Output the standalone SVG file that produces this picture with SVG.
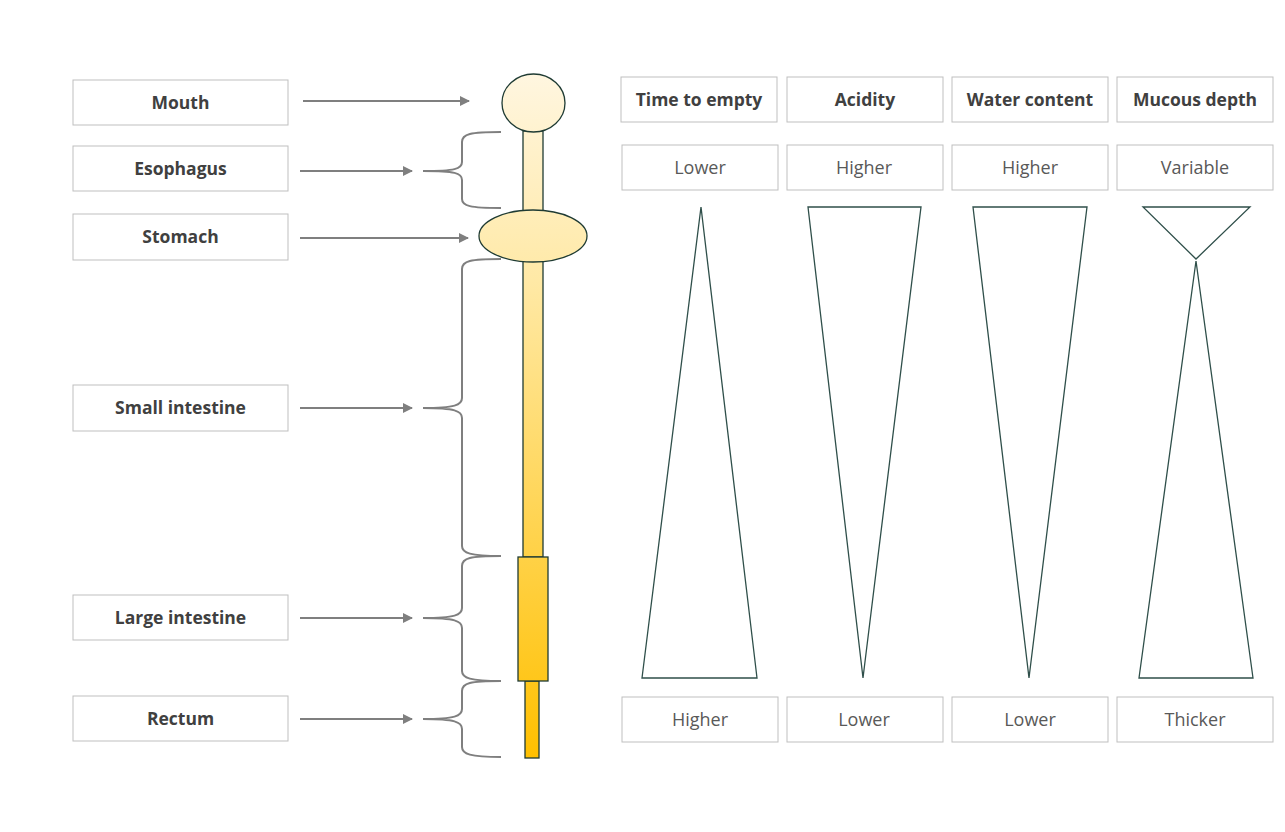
<svg xmlns="http://www.w3.org/2000/svg" width="1285" height="832" viewBox="0 0 1285 832">
<defs>
<linearGradient id="g" gradientUnits="userSpaceOnUse" x1="0" y1="74" x2="0" y2="758">
<stop offset="0" stop-color="#FFF6E0"/>
<stop offset="0.3" stop-color="#FFE9A6"/>
<stop offset="1" stop-color="#FFC000"/>
</linearGradient>
<marker id="ah" markerWidth="10" markerHeight="10" refX="9" refY="5" orient="auto" markerUnits="userSpaceOnUse">
<path d="M0,0 L10,5 L0,10 Z" fill="#7F7F7F"/>
</marker>
<style>
.box{fill:#fff;stroke:#BFBFBF;stroke-width:1}
.h{font-family:"Open Sans","Liberation Sans",sans-serif;font-weight:bold;font-size:17.5px;fill:#404040;text-anchor:middle}
.v{font-family:"Open Sans","Liberation Sans",sans-serif;font-size:18px;fill:#595959;text-anchor:middle}
.arr{stroke:#7F7F7F;stroke-width:2;fill:none;marker-end:url(#ah)}
.br{stroke:#7F7F7F;stroke-width:2;fill:none}
.tube{fill:url(#g);stroke:#1F3B33;stroke-width:1.3}
.tri{fill:#fff;stroke:#2F4F4A;stroke-width:1.3}
</style>
</defs>
<rect width="1285" height="832" fill="#fff"/>

<g id="label-mouth"><rect class="box" x="73" y="80" width="215" height="45"/><text class="h" x="180.5" y="109">Mouth</text></g>
<g id="label-esophagus"><rect class="box" x="73" y="146" width="215" height="45"/><text class="h" x="180.5" y="175">Esophagus</text></g>
<g id="label-stomach"><rect class="box" x="73" y="214" width="215" height="46"/><text class="h" x="180.5" y="243">Stomach</text></g>
<g id="label-small"><rect class="box" x="73" y="385" width="215" height="46"/><text class="h" x="180.5" y="414">Small intestine</text></g>
<g id="label-large"><rect class="box" x="73" y="595" width="215" height="45"/><text class="h" x="180.5" y="624">Large intestine</text></g>
<g id="label-rectum"><rect class="box" x="73" y="696" width="215" height="45"/><text class="h" x="180.5" y="725">Rectum</text></g>

<g id="connectors">
<line class="arr" x1="303" y1="101" x2="469" y2="101"/>
<line class="arr" x1="300" y1="171" x2="412" y2="171"/>
<line class="arr" x1="300" y1="238" x2="468" y2="238"/>
<line class="arr" x1="300" y1="408" x2="412" y2="408"/>
<line class="arr" x1="300" y1="618" x2="412" y2="618"/>
<line class="arr" x1="300" y1="719" x2="412" y2="719"/>
<path class="br" d="M501,132 C470,132 462,134 462,142 L462,162 C462,169 455,171 423,171 C455,171 462,173 462,180 L462,199 C462,206 470,208 501,208"/>
<path class="br" d="M501,259 C470,259 462,261 462,269 L462,398 C462,405 455,408 423,408 C455,408 462,411 462,418 L462,546 C462,553 470,556 501,556"/>
<path class="br" d="M501,556 C470,556 462,558 462,566 L462,608 C462,615 455,618 423,618 C455,618 462,621 462,628 L462,671 C462,678 470,681 501,681"/>
<path class="br" d="M501,681 C470,681 462,683 462,691 L462,709 C462,716 455,719 423,719 C455,719 462,722 462,729 L462,747 C462,754 470,757 501,757"/>
</g>

<g id="tube">
<rect class="tube" x="523" y="131" width="20" height="80"/>
<rect class="tube" x="523" y="258" width="20" height="299"/>
<rect class="tube" x="525" y="681" width="14" height="77"/>
<rect class="tube" x="518" y="557" width="30" height="124"/>
<ellipse class="tube" cx="533.5" cy="103" rx="31.5" ry="29"/>
<ellipse class="tube" cx="533" cy="236" rx="54" ry="26"/>
</g>

<g id="col-time">
<rect class="box" x="621" y="77" width="156" height="45"/><text class="h" x="699" y="106">Time to empty</text>
<rect class="box" x="622" y="145" width="156" height="45"/><text class="v" x="700" y="174">Lower</text>
<polygon class="tri" points="701,207 757,678 642,678"/>
<rect class="box" x="622" y="697" width="156" height="45"/><text class="v" x="700" y="726">Higher</text>
</g>
<g id="col-acidity">
<rect class="box" x="787" y="77" width="156" height="45"/><text class="h" x="865" y="106">Acidity</text>
<rect class="box" x="787" y="145" width="156" height="45"/><text class="v" x="864" y="174">Higher</text>
<polygon class="tri" points="808,207 921,207 863,678"/>
<rect class="box" x="787" y="697" width="156" height="45"/><text class="v" x="864" y="726">Lower</text>
</g>
<g id="col-water">
<rect class="box" x="952" y="77" width="156" height="45"/><text class="h" x="1030" y="106">Water content</text>
<rect class="box" x="952" y="145" width="156" height="45"/><text class="v" x="1030" y="174">Higher</text>
<polygon class="tri" points="973,207 1087,207 1029,678"/>
<rect class="box" x="952" y="697" width="156" height="45"/><text class="v" x="1030" y="726">Lower</text>
</g>
<g id="col-mucous">
<rect class="box" x="1117" y="77" width="156" height="45"/><text class="h" x="1195" y="106">Mucous depth</text>
<rect class="box" x="1117" y="145" width="156" height="45"/><text class="v" x="1195" y="174">Variable</text>
<polygon class="tri" points="1143,207 1250,207 1196,259"/>
<polygon class="tri" points="1196,261 1253,678 1139,678"/>
<rect class="box" x="1117" y="697" width="156" height="45"/><text class="v" x="1195" y="726">Thicker</text>
</g>
</svg>
